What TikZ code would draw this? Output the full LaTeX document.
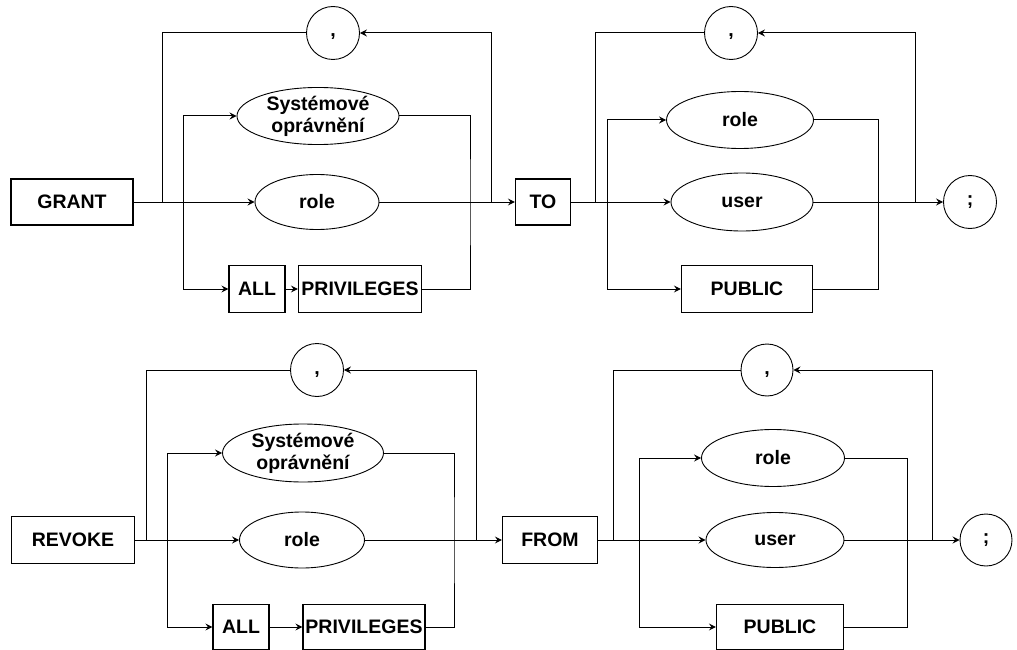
\documentclass[tikz,border=0pt]{standalone}
\usepackage{fontspec}
\setmainfont{Liberation Sans}
\usetikzlibrary{arrows.meta,shapes.geometric}

\tikzset{
  kw/.style={draw, rectangle, line width=1.15pt, inner sep=0pt,
    font=\fontsize{19.5}{22}\selectfont\bfseries},
  nt/.style={draw, ellipse, line width=0.9pt, inner sep=0pt, align=center,
    font=\fontsize{19.5}{22}\selectfont\bfseries},
  sym/.style={draw, circle, line width=0.9pt, inner sep=0pt,
    font=\fontsize{19.5}{22}\selectfont\bfseries},
  % separator circle: comma sits a little below the centre
  sepsym/.style={sym, text height=8pt, text depth=0pt},
  wire/.style={line width=1pt},
  arr/.style={wire, -{Stealth[length=7pt,width=7pt,inset=2.5pt]}}
}

\begin{document}
\begin{tikzpicture}[x=1pt,y=-1pt]
\useasboundingbox (0,0) rectangle (1017,650);

% ---------- GRANT ... TO ... ;
\node[kw, minimum width=122pt, minimum height=46pt] (grant) at (72,202) {GRANT};
\node[sepsym, minimum size=53pt] (c1) at (333,33) {,};
\node[nt, minimum width=162pt, minimum height=52pt] (sys1) at (318,116) {Systémové\\oprávnění};
\node[nt, minimum width=124pt, minimum height=55pt] (role1) at (317,202) {role};
\node[kw, minimum width=56pt, minimum height=47pt] (all1) at (257,289) {ALL};
\node[kw, minimum width=123pt, minimum height=47pt] (priv1) at (360,289) {PRIVILEGES};
\node[kw, minimum width=55pt, minimum height=46pt] (to) at (543,202) {TO};
\node[sepsym, minimum size=53pt] (c2) at (731,33) {,};
\node[nt, minimum width=147pt, minimum height=57pt] (role2) at (740,120) {role};
\node[nt, minimum width=142pt, minimum height=58pt] (user2) at (742,202) {user};
\node[kw, minimum width=131pt, minimum height=47pt] (pub2) at (747,289) {PUBLIC};
\node[sym, minimum size=53pt] (semi1) at (970,202) {;};

\coordinate (b1) at (162,202);
\coordinate (i1) at (183,202);
\coordinate (j1) at (470,202);
\coordinate (r1) at (491,202);
\coordinate (b2) at (595,202);
\coordinate (i2) at (607,202);
\coordinate (j2) at (878,202);
\coordinate (r2) at (915,202);

\draw[arr] (grant.east) -- (role1.west);
\draw[arr] (role1.east) -- (to.west);
\draw[wire] (b1) |- (c1.west);
\draw[arr] (r1) |- (c1.east);
\draw[arr] (i1) |- (sys1.west);
\draw[arr] (i1) |- (all1.west);
\draw[arr] (all1.east) -- (priv1.west);
\draw[wire] (sys1.east) -| (j1) |- (priv1.east);

\draw[arr] (to.east) -- (user2.west);
\draw[arr] (user2.east) -- (semi1.west);
\draw[wire] (b2) |- (c2.west);
\draw[arr] (r2) |- (c2.east);
\draw[arr] (i2) |- (role2.west);
\draw[arr] (i2) |- (pub2.west);
\draw[wire] (role2.east) -| (j2) |- (pub2.east);

% ---------- REVOKE ... FROM ... ;
\node[kw, minimum width=123pt, minimum height=47pt] (revoke) at (73,540) {REVOKE};
\node[sepsym, minimum size=53pt] (c3) at (317,370) {,};
\node[nt, minimum width=161pt, minimum height=58pt] (sys3) at (303,453) {Systémové\\oprávnění};
\node[nt, minimum width=125pt, minimum height=56pt] (role3) at (302,540) {role};
\node[kw, minimum width=56pt, minimum height=45pt] (all3) at (241,627) {ALL};
\node[kw, minimum width=122pt, minimum height=45pt] (priv3) at (364,627) {PRIVILEGES};
\node[kw, minimum width=95pt, minimum height=47pt] (from) at (550,540) {FROM};
\node[sepsym, minimum size=52pt] (c4) at (767,370) {,};
\node[nt, minimum width=143pt, minimum height=57pt] (role4) at (773,458) {role};
\node[nt, minimum width=138pt, minimum height=55pt] (user4) at (775,540) {user};
\node[kw, minimum width=127pt, minimum height=45pt] (pub4) at (780,627) {PUBLIC};
\node[sym, minimum size=52pt] (semi2) at (986,540) {;};

\coordinate (b3) at (146,540);
\coordinate (i3) at (167,540);
\coordinate (j3) at (454,540);
\coordinate (r3) at (476,540);
\coordinate (b4) at (613,540);
\coordinate (i4) at (639,540);
\coordinate (j4) at (907,540);
\coordinate (r4) at (932,540);

\draw[arr] (revoke.east) -- (role3.west);
\draw[arr] (role3.east) -- (from.west);
\draw[wire] (b3) |- (c3.west);
\draw[arr] (r3) |- (c3.east);
\draw[arr] (i3) |- (sys3.west);
\draw[arr] (i3) |- (all3.west);
\draw[arr] (all3.east) -- (priv3.west);
\draw[wire] (sys3.east) -| (j3) |- (priv3.east);

\draw[arr] (from.east) -- (user4.west);
\draw[arr] (user4.east) -- (semi2.west);
\draw[wire] (b4) |- (c4.west);
\draw[arr] (r4) |- (c4.east);
\draw[arr] (i4) |- (role4.west);
\draw[arr] (i4) |- (pub4.west);
\draw[wire] (role4.east) -| (j4) |- (pub4.east);
\end{tikzpicture}
\end{document}
